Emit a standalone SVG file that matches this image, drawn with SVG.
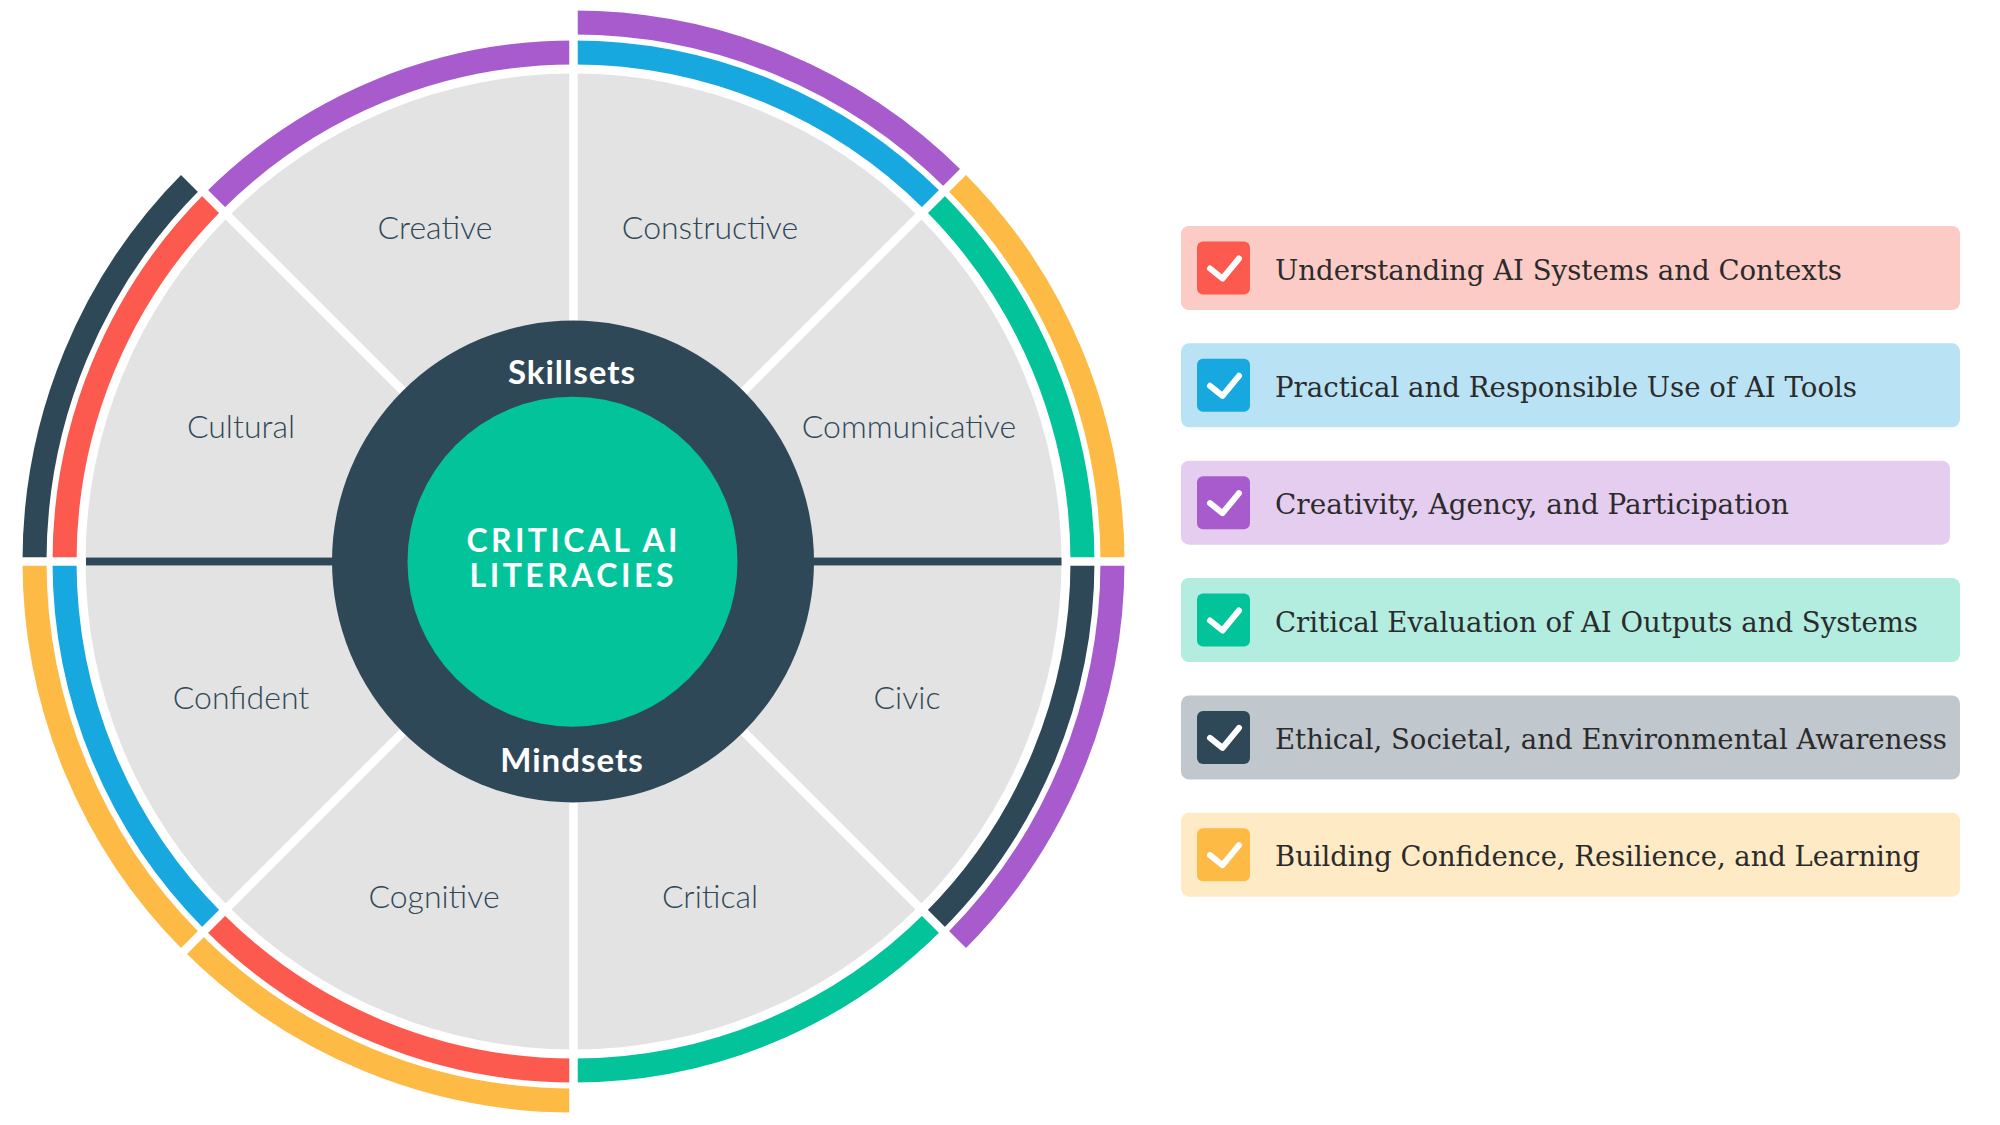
<svg xmlns="http://www.w3.org/2000/svg" width="2000" height="1125" viewBox="0 0 2000 1125">
<defs>
<style>
.ring1{fill:none;stroke-width:24;stroke-linecap:butt}
.ring2{fill:none;stroke-width:24;stroke-linecap:butt}
.gap{stroke:#ffffff;stroke-width:8.5}
.seg{font-family:Lato,"Open Sans",sans-serif;font-weight:300;font-size:32px;fill:#2f4858;text-anchor:middle}
.hub{font-family:Lato,"Open Sans",sans-serif;font-weight:700;font-size:33px;fill:#ffffff;text-anchor:middle;letter-spacing:1px}
.core{font-family:Lato,"Open Sans",sans-serif;font-weight:700;font-size:32px;fill:#ffffff;text-anchor:middle}
.lg{font-family:"DejaVu Serif","Liberation Serif",serif;font-size:28px;fill:#2b2b2b}
.chk{fill:none;stroke:#ffffff;stroke-width:6;stroke-linecap:round;stroke-linejoin:round}
</style>
</defs>
<rect x="0" y="0" width="2000" height="1125" fill="#ffffff"/>

<g id="wheel">
  <circle id="wheel-base" cx="573.5" cy="561.5" r="488" fill="#e3e3e3"/>
  <g id="rings">
    <path class="ring1" stroke="#17a8e0" d="M573.5 52.5 A509 509 0 0 1 933.42 201.58"/>
    <path class="ring1" stroke="#02c39a" d="M933.42 201.58 A509 509 0 0 1 1082.5 561.5"/>
    <path class="ring1" stroke="#2f4858" d="M1082.5 561.5 A509 509 0 0 1 933.42 921.42"/>
    <path class="ring1" stroke="#02c39a" d="M933.42 921.42 A509 509 0 0 1 573.5 1070.5"/>
    <path class="ring1" stroke="#fd5a4f" d="M573.5 1070.5 A509 509 0 0 1 213.58 921.42"/>
    <path class="ring1" stroke="#17a8e0" d="M213.58 921.42 A509 509 0 0 1 64.5 561.5"/>
    <path class="ring1" stroke="#fd5a4f" d="M64.5 561.5 A509 509 0 0 1 213.58 201.58"/>
    <path class="ring1" stroke="#a75bcd" d="M213.58 201.58 A509 509 0 0 1 573.5 52.5"/>
    <path class="ring2" stroke="#a75bcd" d="M573.5 22.5 A539 539 0 0 1 954.63 180.37"/>
    <path class="ring2" stroke="#fdbb45" d="M954.63 180.37 A539 539 0 0 1 1112.5 561.5"/>
    <path class="ring2" stroke="#a75bcd" d="M1112.5 561.5 A539 539 0 0 1 954.63 942.63"/>
    <path class="ring2" stroke="#fdbb45" d="M573.5 1100.5 A539 539 0 0 1 192.37 942.63"/>
    <path class="ring2" stroke="#fdbb45" d="M192.37 942.63 A539 539 0 0 1 34.5 561.5"/>
    <path class="ring2" stroke="#2f4858" d="M34.5 561.5 A539 539 0 0 1 192.37 180.37"/>
  </g>
  <g id="separators">
    <line class="gap" x1="573.5" y1="0" x2="573.5" y2="1125"/>
    <line class="gap" x1="0" y1="561.5" x2="1150" y2="561.5"/>
    <line class="gap" x1="166" y1="154" x2="981" y2="969"/>
    <line class="gap" x1="981" y1="154" x2="166" y2="969"/>
    <line x1="86" y1="561.5" x2="1061.5" y2="561.5" stroke="#2f4858" stroke-width="8"/>
  </g>
  <circle id="hub" cx="573" cy="561.5" r="241" fill="#2f4858"/>
  <g id="core">
    <circle cx="572.5" cy="561.7" r="165" fill="#02c39a"/>
    <text class="core" x="572" y="552.3" textLength="211" lengthAdjust="spacing">CRITICAL AI</text>
    <text class="core" x="571.5" y="587.3" textLength="204" lengthAdjust="spacing">LITERACIES</text>
  </g>
  <text id="skillsets" class="hub" x="572" y="384.3">Skillsets</text>
  <text id="mindsets" class="hub" x="572" y="771.7">Mindsets</text>
  <g id="seg-constructive"><text class="seg" x="710" y="238.5">Constructive</text></g>
  <g id="seg-creative"><text class="seg" x="435" y="238.5">Creative</text></g>
  <g id="seg-communicative"><text class="seg" x="909" y="437.7">Communicative</text></g>
  <g id="seg-cultural"><text class="seg" x="241" y="437.7">Cultural</text></g>
  <g id="seg-confident"><text class="seg" x="241" y="708.7">Confident</text></g>
  <g id="seg-civic"><text class="seg" x="907" y="708.7">Civic</text></g>
  <g id="seg-cognitive"><text class="seg" x="434" y="907.5">Cognitive</text></g>
  <g id="seg-critical"><text class="seg" x="710" y="907.5">Critical</text></g>
</g>

<g id="legend">
  <g id="legend-understanding">
    <rect x="1181" y="226" width="779" height="84" rx="8" fill="#fdcbc6"/>
    <rect x="1197" y="241.5" width="53" height="53" rx="6" fill="#fd5a4f"/>
    <polyline class="chk" points="1210,268.5 1222.5,278.5 1239,258.5"/>
    <text class="lg" x="1275" y="279.5" textLength="567" lengthAdjust="spacingAndGlyphs">Understanding AI Systems and Contexts</text>
  </g>
  <g id="legend-practical">
    <rect x="1181" y="343.3" width="779" height="84" rx="8" fill="#b9e3f5"/>
    <rect x="1197" y="358.8" width="53" height="53" rx="6" fill="#17a8e0"/>
    <polyline class="chk" points="1210,385.8 1222.5,395.8 1239,375.8"/>
    <text class="lg" x="1275" y="396.8" textLength="582" lengthAdjust="spacingAndGlyphs">Practical and Responsible Use of AI Tools</text>
  </g>
  <g id="legend-creativity">
    <rect x="1181" y="460.7" width="769" height="84" rx="8" fill="#e5cdf0"/>
    <rect x="1197" y="476.2" width="53" height="53" rx="6" fill="#a75bcd"/>
    <polyline class="chk" points="1210,503.2 1222.5,513.2 1239,493.2"/>
    <text class="lg" x="1275" y="514.2" textLength="514" lengthAdjust="spacingAndGlyphs">Creativity, Agency, and Participation</text>
  </g>
  <g id="legend-critical">
    <rect x="1181" y="578" width="779" height="84" rx="8" fill="#b2ede0"/>
    <rect x="1197" y="593.5" width="53" height="53" rx="6" fill="#02c39a"/>
    <polyline class="chk" points="1210,620.5 1222.5,630.5 1239,610.5"/>
    <text class="lg" x="1275" y="631.5" textLength="643" lengthAdjust="spacingAndGlyphs">Critical Evaluation of AI Outputs and Systems</text>
  </g>
  <g id="legend-ethical">
    <rect x="1181" y="695.4" width="779" height="84" rx="8" fill="#c0c7cd"/>
    <rect x="1197" y="710.9" width="53" height="53" rx="6" fill="#2f4858"/>
    <polyline class="chk" points="1210,737.9 1222.5,747.9 1239,727.9"/>
    <text class="lg" x="1275" y="748.9" textLength="672" lengthAdjust="spacingAndGlyphs">Ethical, Societal, and Environmental Awareness</text>
  </g>
  <g id="legend-building">
    <rect x="1181" y="812.7" width="779" height="84" rx="8" fill="#feeac4"/>
    <rect x="1197" y="828.2" width="53" height="53" rx="6" fill="#fdbb45"/>
    <polyline class="chk" points="1210,855.2 1222.5,865.2 1239,845.2"/>
    <text class="lg" x="1275" y="866.2" textLength="645" lengthAdjust="spacingAndGlyphs">Building Confidence, Resilience, and Learning</text>
  </g>
</g>
</svg>
